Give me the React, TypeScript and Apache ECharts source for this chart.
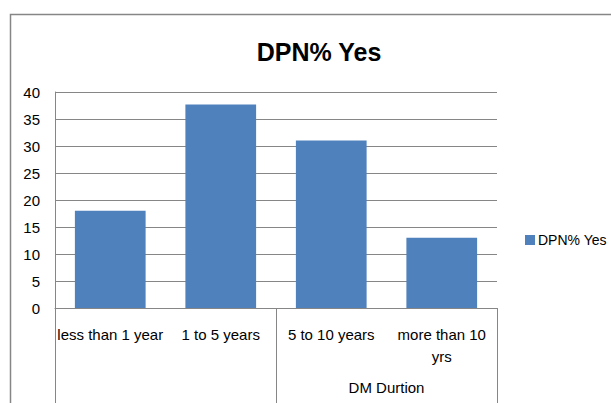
import React, { useEffect, useRef } from "react";
import * as echarts from "echarts";

const categories = ["less than 1 year", "1 to 5 years", "5 to 10 years", "more than 10 yrs"];
const groupLabels = ["", "DM Durtion"];
const seriesName = "DPN% Yes";
const values = [18, 37.7, 31, 13];
const yTicks = { min: 0, max: 40, interval: 5 };

const FONT = "'Liberation Sans', Arial, sans-serif";
const GRAY = "#868686";

export default function App() {
  const ref = useRef<HTMLDivElement>(null);
  useEffect(() => {
    if (!ref.current) return;
    const chart = echarts.init(ref.current, null, { renderer: "svg" });
    chart.setOption({
      animation: false,
      backgroundColor: "#ffffff",
      textStyle: { fontFamily: FONT, color: "#000" },
      title: {
        text: "DPN% Yes",
        left: 314,
        textAlign: "center",
        top: 34,
        textStyle: { fontFamily: FONT, fontSize: 25, fontWeight: "bold", color: "#000" },
      },
      legend: {
        data: [seriesName],
        left: 525,
        top: 233,
        padding: 0,
        icon: "rect",
        itemWidth: 10,
        itemHeight: 10,
        itemGap: 4,
        textStyle: { fontFamily: FONT, fontSize: 14, color: "#000", padding: [0, 0, 0, -2] },
      },
      grid: { left: 55, right: 114, top: 92, bottom: 95, containLabel: false },
      xAxis: [
        {
          type: "category",
          data: categories,
          position: "bottom",
          axisLine: { show: true, lineStyle: { color: GRAY, width: 1 } },
          axisTick: { show: false },
          axisLabel: {
            interval: 0,
            margin: 15,
            fontFamily: FONT,
            fontSize: 15,
            color: "#000",
            lineHeight: 22,
            formatter: (v: string) => (v === "more than 10 yrs" ? "more than 10\nyrs" : v),
          },
          splitLine: { show: false },
        },
        {
          type: "category",
          data: groupLabels,
          position: "bottom",
          axisLine: { show: false },
          axisTick: { show: true, length: 100, lineStyle: { color: GRAY, width: 1 } },
          axisLabel: { interval: 0, margin: 72, fontFamily: FONT, fontSize: 15, color: "#000" },
          splitLine: { show: false },
        },
      ],
      yAxis: {
        type: "value",
        min: yTicks.min,
        max: yTicks.max,
        interval: yTicks.interval,
        axisLine: { show: true, lineStyle: { color: GRAY, width: 1 } },
        axisTick: { show: false },
        axisLabel: { margin: 15, fontFamily: FONT, fontSize: 15, color: "#000" },
        splitLine: { show: true, lineStyle: { color: GRAY, width: 1 } },
      },
      series: [
        {
          name: seriesName,
          type: "bar",
          data: values,
          xAxisIndex: 0,
          barCategoryGap: "36%",
          itemStyle: { color: "#4F81BD" },
        },
      ],
      graphic: [
        {
          type: "rect",
          shape: { x: 10.5, y: 14.5, width: 700, height: 500 },
          style: { fill: "none", stroke: GRAY, lineWidth: 1.5 },
          silent: true,
          z: -1,
        },
      ],
    });
    return () => chart.dispose();
  }, []);
  return (
    <div
      ref={ref}
      style={{ position: "absolute", left: 0, top: 0, width: 611, height: 403 }}
    />
  );
}
